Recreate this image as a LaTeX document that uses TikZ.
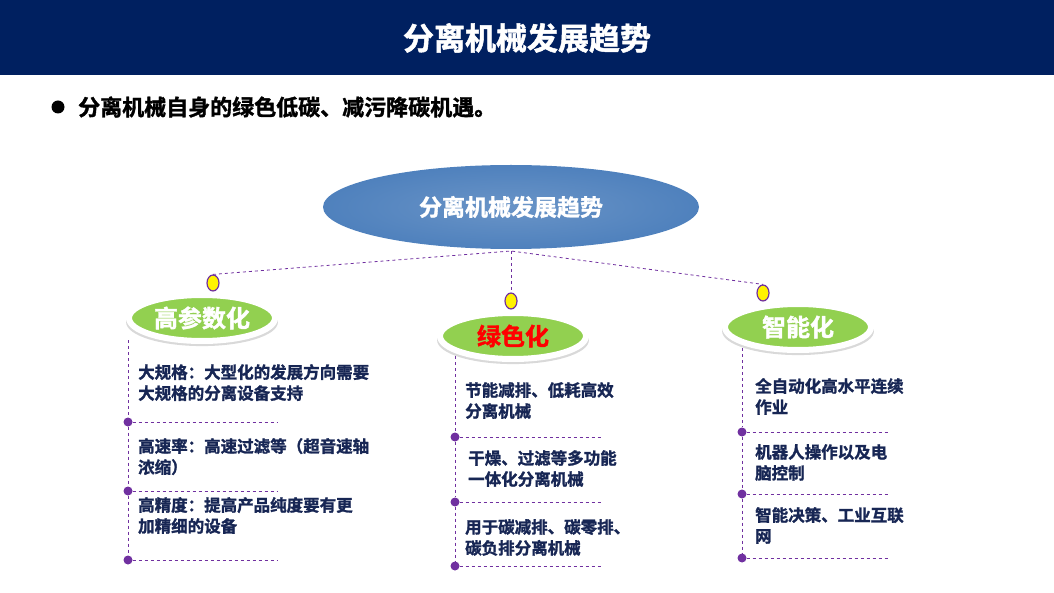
\documentclass[tikz,border=0pt]{standalone}
\usepackage{fontspec}
\setmainfont{Noto Sans CJK SC}[BoldFont={Noto Sans CJK SC Bold},BoldFeatures={FakeBold=1.5}]
\usetikzlibrary{shadows,shapes.geometric}
\definecolor{navy}{RGB}{0,32,96}
\definecolor{txtblue}{RGB}{23,38,84}
\definecolor{bigblue}{RGB}{79,129,189}
\definecolor{leafgreen}{RGB}{146,208,80}
\definecolor{linepurple}{RGB}{112,48,160}
\newlength{\du}
\setlength{\du}{1pt}
\tikzset{
  trend/.style={ellipse,minimum width=146\du,minimum height=46\du,fill=leafgreen,
    draw=white,line width=6\du,drop shadow={shadow xshift=0pt,shadow yshift=-4pt,shadow scale=1.04,opacity=0.3},
    font=\bfseries\fontsize{24}{26}\selectfont,text=white},
  knob/.style={ellipse,minimum width=12\du,minimum height=16\du,inner sep=0pt,fill=yellow,draw=linepurple,line width=1.2\du},
  pin/.style={circle,fill=linepurple,minimum size=9\du,inner sep=0pt},
  link/.style={linepurple,dashed,line width=0.8\du},
  item/.style={anchor=north west,align=left,text=txtblue,inner sep=0pt,
    font=\bfseries\fontsize{16.5}{21}\selectfont}
}
\begin{document}
\begin{tikzpicture}[x=1\du,y=-1\du]
\useasboundingbox (0,0) rectangle (1054,593);
\fill[navy] (0,0) rectangle (1054,75);
\node[text=white,font=\bfseries\fontsize{31}{34}\selectfont] (title) at (527,38) {分离机械发展趋势};
\fill (58,107) circle (6.5);
\node[anchor=west,inner sep=0pt,font=\bfseries\fontsize{22}{24}\selectfont] (lead) at (78,107) {分离机械自身的绿色低碳、减污降碳机遇。};
% centre
\node[ellipse,minimum width=376\du,minimum height=84\du,inner color=bigblue!85,outer color=bigblue,
  text=white,font=\bfseries\fontsize{23}{25}\selectfont] (hub) at (511,207) {分离机械发展趋势};
\coordinate (fork) at (511,251);
\node[knob] (kA) at (213,283) {};
\node[knob] (kB) at (511,301) {};
\node[knob] (kC) at (763,293) {};
\draw[link] (kA.north) -- (fork) -- (kC.north);
\draw[link] (fork) -- (kB.north);
\node[trend] (tA) at (202,318) {高参数化};
\node[trend,text=red] (tB) at (513,336) {绿色化};
\node[trend] (tC) at (798,327) {智能化};
% column left
\foreach \n/\y in {1/422,2/491,3/560} {
  \node[pin] (pA\n) at (128,\y) {};
  \coordinate (eA\n) at (278,\y);
  \draw[link] (pA\n) -- (eA\n);
}
\coordinate (sA) at (128,340);
\draw[link] (sA) -- (pA1) -- (pA2) -- (pA3);
\node[item] (iA1) at (138,364) {大规格：大型化的发展方向需要\\大规格的分离设备支持};
\node[item] (iA2) at (138,438) {高速率：高速过滤等（超音速轴\\浓缩）};
\node[item] (iA3) at (138,497) {高精度：提高产品纯度要有更\\加精细的设备};
% column middle
\foreach \n/\y in {1/437,2/502,3/566} {
  \node[pin] (pB\n) at (455,\y) {};
  \coordinate (eB\n) at (602,\y);
  \draw[link] (pB\n) -- (eB\n);
}
\coordinate (sB) at (455,356);
\draw[link] (sB) -- (pB1) -- (pB2) -- (pB3);
\node[item] (iB1) at (465,382) {节能减排、低耗高效\\分离机械};
\node[item] (iB2) at (468,450) {干燥、过滤等多功能\\一体化分离机械};
\node[item] (iB3) at (465,519) {用于碳减排、碳零排、\\碳负排分离机械};
% column right
\foreach \n/\y in {1/432,2/494,3/558} {
  \node[pin] (pC\n) at (742,\y) {};
  \coordinate (eC\n) at (888,\y);
  \draw[link] (pC\n) -- (eC\n);
}
\coordinate (sC) at (742,348);
\draw[link] (sC) -- (pC1) -- (pC2) -- (pC3);
\node[item] (iC1) at (755,378) {全自动化高水平连续\\作业};
\node[item] (iC2) at (755,444) {机器人操作以及电\\脑控制};
\node[item] (iC3) at (755,507) {智能决策、工业互联\\网};
\end{tikzpicture}
\end{document}
